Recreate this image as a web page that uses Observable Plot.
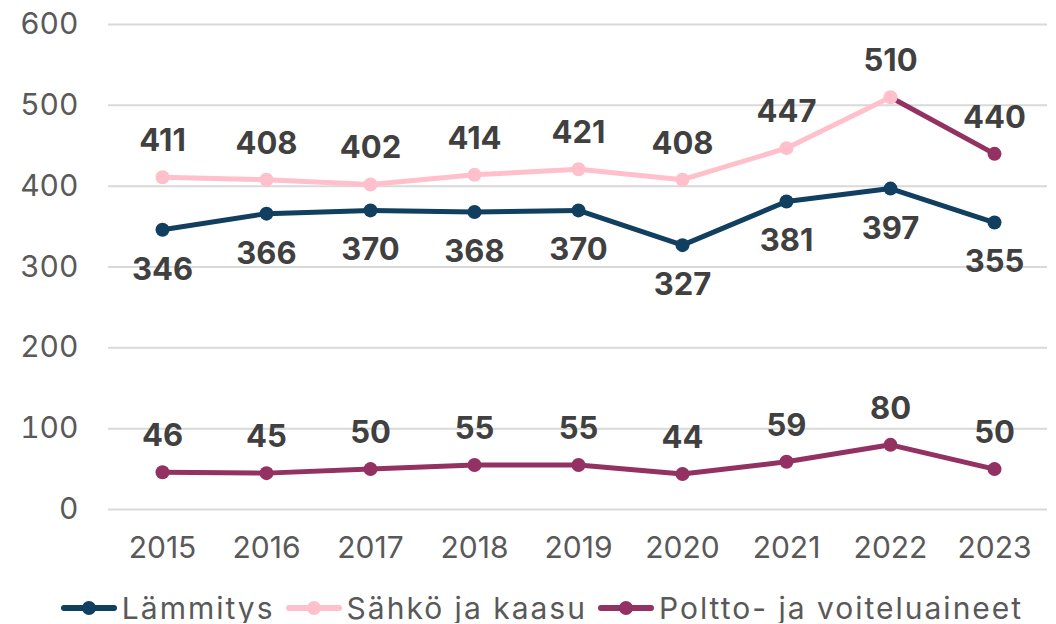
<!DOCTYPE html>
<html><head><meta charset="utf-8">
<script src="https://cdn.jsdelivr.net/npm/d3@7"></script>
<script src="https://cdn.jsdelivr.net/npm/@observablehq/plot@0.6"></script>
<style>
body{margin:0;background:#fff;font-family:Inter,"Noto Sans",sans-serif;overflow:hidden;}
#legend{display:flex;justify-content:center;gap:11px;margin-left:28px;margin-top:13px;font-size:30px;letter-spacing:2px;color:#595959;line-height:30px;white-space:nowrap;}
.item{display:flex;align-items:center;}
.sym{position:relative;width:56px;height:30px;margin-right:5px;}
.sym .ln{position:absolute;left:0;right:0;top:12px;height:6px;border-radius:3px;}
.sym .dt{position:absolute;left:21px;top:8px;width:14px;height:14px;border-radius:7px;}
</style></head>
<body>
<div id="chart"></div>
<div id="legend"></div>
<script>
const years = [2015, 2016, 2017, 2018, 2019, 2020, 2021, 2022, 2023];
const seriesNames = ["Lämmitys", "Sähkö ja kaasu", "Poltto- ja voiteluaineet"];
const lammitys = [346, 366, 370, 368, 370, 327, 381, 397, 355];
const sahko = [411, 408, 402, 414, 421, 408, 447, 510, 440];
const poltto = [46, 45, 50, 55, 55, 44, 59, 80, 50];
const colors = {"Lämmitys": "#113f5f", "Sähkö ja kaasu": "#ffc0cc", "Poltto- ja voiteluaineet": "#923162"};
// colour of each Sähkö point/segment ending at it, as seen in the reference
const sahkoPointSeries = ["Sähkö ja kaasu","Sähkö ja kaasu","Sähkö ja kaasu","Sähkö ja kaasu","Sähkö ja kaasu","Sähkö ja kaasu","Sähkö ja kaasu","Sähkö ja kaasu","Poltto- ja voiteluaineet"];
const yTicks = [0, 100, 200, 300, 400, 500, 600];
const labelDy = {"Lämmitys": 40, "Sähkö ja kaasu": -36, "Poltto- ja voiteluaineet": -36};

const values = [lammitys, sahko, poltto];
const rows = [];
seriesNames.forEach((s, si) => years.forEach((y, i) => rows.push({year: String(y), value: values[si][i], series: s,
  color: s === "Sähkö ja kaasu" ? colors[sahkoPointSeries[i]] : colors[s]})));
const segs = [];
seriesNames.forEach((s, si) => {
  for (let i = 1; i < years.length; i++) {
    segs.push({x1: String(years[i-1]), x2: String(years[i]), y1: values[si][i-1], y2: values[si][i], series: s,
      color: s === "Sähkö ja kaasu" ? colors[sahkoPointSeries[i]] : colors[s]});
  }
});

const plot = Plot.plot({
  width: 1056, height: 580,
  marginLeft: 108, marginRight: 9, marginTop: 24, marginBottom: 71,
  style: {fontFamily: "Inter, 'Noto Sans', sans-serif", background: "#fff", overflow: "visible"},
  x: {type: "point", domain: years.map(String), padding: 0.5, label: null},
  y: {domain: [0, 600], label: null},
  marks: [
    Plot.gridY(yTicks, {stroke: "#d9d9d9", strokeOpacity: 1, strokeWidth: 2}),
    Plot.axisY(yTicks, {tickSize: 0, tickPadding: 30, fontSize: 30, fill: "#595959", label: null}),
    Plot.axisX({tickSize: 0, tickPadding: 27, fontSize: 30, fill: "#595959", label: null}),
    Plot.link(segs, {x1: "x1", x2: "x2", y1: "y1", y2: "y2", stroke: d => d.color, strokeWidth: 5, strokeLinecap: "round"}),
    Plot.dot(rows, {x: "year", y: "value", r: 7, fill: d => d.color, stroke: "none"}),
    ...seriesNames.map(s => Plot.text(rows.filter(d => d.series === s), {x: "year", y: "value", text: d => String(d.value),
      dy: labelDy[s], fontSize: 31, fontWeight: "bold", fill: "#404040"}))
  ]
});
document.getElementById("chart").appendChild(plot);

const legend = document.getElementById("legend");
seriesNames.forEach(s => {
  const it = document.createElement("div"); it.className = "item";
  it.innerHTML = `<div class="sym"><div class="ln" style="background:${colors[s]}"></div><div class="dt" style="background:${colors[s]}"></div></div><span>${s}</span>`;
  legend.appendChild(it);
});
</script>
</body></html>
